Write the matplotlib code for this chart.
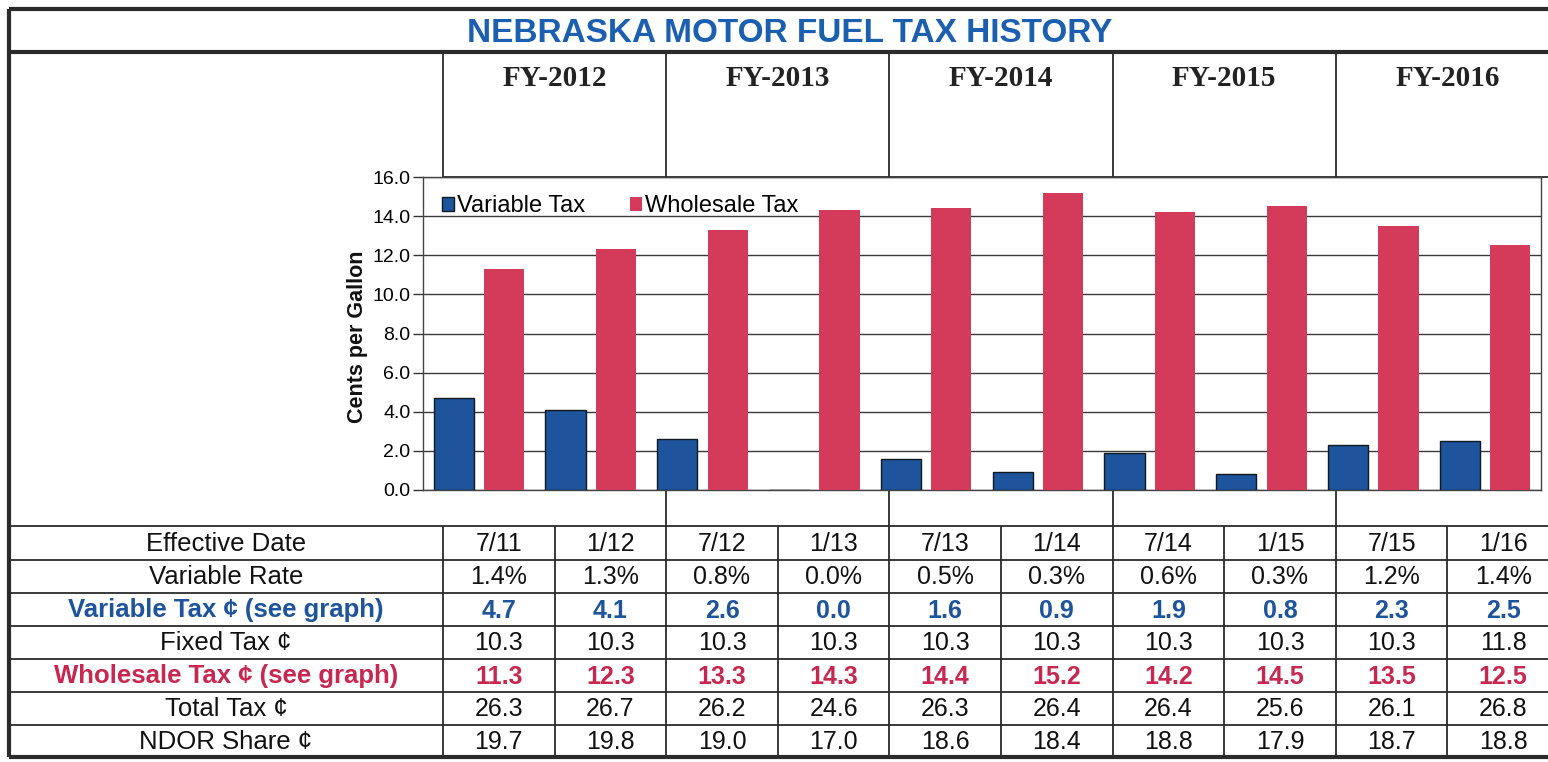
import matplotlib
matplotlib.use('Agg')
import matplotlib.pyplot as plt
import numpy as np

plt.rcParams['font.family'] = ['Liberation Sans', 'DejaVu Sans']

# data
fiscal_years = ['FY-2012', 'FY-2013', 'FY-2014', 'FY-2015', 'FY-2016']
effective_dates = ['7/11', '1/12', '7/12', '1/13', '7/13', '1/14', '7/14', '1/15', '7/15', '1/16']
variable_rate = [1.4, 1.3, 0.8, 0.0, 0.5, 0.3, 0.6, 0.3, 1.2, 1.4]
variable_tax = [4.7, 4.1, 2.6, 0.0, 1.6, 0.9, 1.9, 0.8, 2.3, 2.5]
fixed_tax = [10.3, 10.3, 10.3, 10.3, 10.3, 10.3, 10.3, 10.3, 10.3, 11.8]
wholesale_tax = [11.3, 12.3, 13.3, 14.3, 14.4, 15.2, 14.2, 14.5, 13.5, 12.5]
total_tax = [26.3, 26.7, 26.2, 24.6, 26.3, 26.4, 26.4, 25.6, 26.1, 26.8]
ndor_share = [19.7, 19.8, 19.0, 17.0, 18.6, 18.4, 18.8, 17.9, 18.7, 18.8]

blue = '#1d549c'
red = '#d43a5a'
title_blue = '#1b5fb0'
line_col = '#2b2b2b'

W, H = 1548, 762
fig = plt.figure(figsize=(W / 100, H / 100), dpi=100)
fig.patch.set_facecolor('white')

# overlay in pixel coordinates for the frame and the table
ov = fig.add_axes([0, 0, 1, 1], zorder=0)
ov.set_xlim(0, W)
ov.set_ylim(H, 0)
ov.axis('off')

def hline(y, x0, x1, lw=1.3):
    ov.plot([x0, x1], [y, y], color=line_col, lw=lw, solid_capstyle='butt')

def vline(x, y0, y1, lw=1.3):
    ov.plot([x, x], [y0, y1], color=line_col, lw=lw, solid_capstyle='butt')

# outer frame and title band
left, right, top, bottom = 9, 1560, 9, 757
hline(top, left, right, lw=3)
hline(bottom, left, right, lw=3)
vline(left, top, bottom, lw=3)
hline(52, left, right, lw=3)
ov.text(790, 34, 'NEBRASKA MOTOR FUEL TAX HISTORY', ha='center', va='center',
        fontsize=24, fontweight='bold', color=title_blue)

# fiscal year header boxes
col_edges = 443 + 111.6 * np.arange(len(effective_dates) + 1)
fy_edges = col_edges[::2]
for x in fy_edges:
    vline(x, 52, 177)
    if x > 450:
        vline(x, 490, 526)
hline(177, fy_edges[0], right)
for i, fy in enumerate(fiscal_years):
    ov.text((fy_edges[i] + fy_edges[i + 1]) / 2, 78, fy, ha='center', va='center',
            fontsize=21, fontweight='bold', family='Liberation Serif', color='#222222')

# table rows
row_edges = [526, 560, 593, 626, 659, 692, 725, 757]
row_labels = ['Effective Date', 'Variable Rate', 'Variable Tax ¢ (see graph)', 'Fixed Tax ¢',
              'Wholesale Tax ¢ (see graph)', 'Total Tax ¢', 'NDOR Share ¢']
row_values = [effective_dates,
              ['%.1f%%' % v for v in variable_rate],
              ['%.1f' % v for v in variable_tax],
              ['%.1f' % v for v in fixed_tax],
              ['%.1f' % v for v in wholesale_tax],
              ['%.1f' % v for v in total_tax],
              ['%.1f' % v for v in ndor_share]]
row_colors = ['#111111', '#111111', blue, '#111111', '#c8284f', '#111111', '#111111']
row_bold = [False, False, True, False, True, False, False]

for y in row_edges[:-1]:
    hline(y, left, right)
for x in col_edges:
    vline(x, row_edges[0], row_edges[-1])

for r, label in enumerate(row_labels):
    yc = (row_edges[r] + row_edges[r + 1]) / 2 + 1
    w = 'bold' if row_bold[r] else 'normal'
    ov.text((left + col_edges[0]) / 2, yc, label, ha='center', va='center',
            fontsize=18.5, fontweight=w, color=row_colors[r])
    for c, val in enumerate(row_values[r]):
        ov.text((col_edges[c] + col_edges[c + 1]) / 2, yc, val, ha='center', va='center',
                fontsize=18, fontweight=w, color=row_colors[r])

# bar chart
ax_l, ax_r, ax_t, ax_b = 423, 1541, 177, 490
ax = fig.add_axes([ax_l / W, (H - ax_b) / H, (ax_r - ax_l) / W, (ax_b - ax_t) / H], zorder=2)
x = np.arange(len(effective_dates))
ax.bar(x - 0.225, variable_tax, width=0.36, color=blue, edgecolor='#101820', linewidth=1,
       label='Variable Tax', zorder=3)
ax.bar(x + 0.225, wholesale_tax, width=0.36, color=red, linewidth=0,
       label='Wholesale Tax', zorder=3)
ax.set_xlim(-0.5, len(effective_dates) - 0.5)
ax.set_ylim(0, 16)
ax.set_yticks(np.arange(0, 17, 2))
ax.set_yticklabels(['%.1f' % t for t in np.arange(0, 17, 2)], fontsize=14)
ax.set_xticks([])
ax.yaxis.grid(True, color='#3a3a3a', lw=1)
ax.set_axisbelow(True)
ax.tick_params(axis='y', length=7, width=1, color='#333333', pad=2)
for s in ax.spines.values():
    s.set_color('#444444')
    s.set_linewidth(1)
ax.legend(loc='upper left', ncol=2, frameon=False, fontsize=17, handlelength=0.5,
          handleheight=0.5, handletextpad=0.15, columnspacing=1.9,
          bbox_to_anchor=(0.003, 0.99), borderaxespad=0.25)

ov.text(358, 337, 'Cents per Gallon', rotation=90, ha='center', va='center',
        fontsize=15.5, fontweight='bold', color='#111111', zorder=5)

fig.savefig('out.png', dpi=100)
